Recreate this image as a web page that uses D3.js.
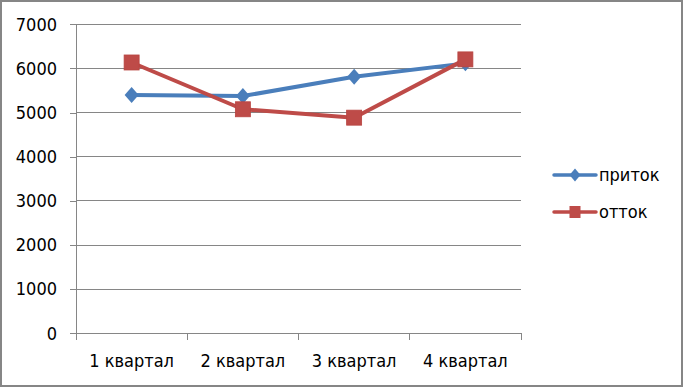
<!DOCTYPE html>
<html><head><meta charset="utf-8">
<script src="https://cdn.jsdelivr.net/npm/d3@7"></script>
<style>
html,body{margin:0;padding:0;background:#fff;}
svg{display:block;}
text{font-family:"DejaVu Sans Condensed","Liberation Sans Narrow",sans-serif;}
</style></head>
<body><svg id="c" width="683" height="387"></svg>
<script>
const categories = ["1 квартал","2 квартал","3 квартал","4 квартал"];
const seriesNames = ["приток","отток"];
const inflow = [5400, 5375, 5810, 6115];
const outflow = [6135, 5075, 4885, 6205];
const yTicks = [0,1000,2000,3000,4000,5000,6000,7000];
const colors = ["#4a7ebb","#be4b48"];

const svg = d3.select("#c");
svg.append("rect").attr("x",1).attr("y",1).attr("width",681).attr("height",385)
  .attr("fill","#fff").attr("stroke","#868686").attr("stroke-width",2);

const L=76, R=521, T=24.3, B=333.3;
const x = d3.scaleBand().domain(categories).range([L,R]);
const y = d3.scaleLinear().domain([0,7000]).range([B,T]);

// gridlines
svg.append("g").selectAll("line").data(yTicks.filter(d=>d>0)).join("line")
  .attr("x1",L).attr("x2",R).attr("y1",d=>y(d)).attr("y2",d=>y(d))
  .attr("stroke","#868686").attr("stroke-width",1).attr("shape-rendering","crispEdges");

// y axis
const ya = svg.append("g").attr("transform",`translate(${L},0)`)
  .call(d3.axisLeft(y).tickValues(yTicks).tickSize(6).tickPadding(13).tickFormat(d3.format("d")));
ya.select(".domain").attr("stroke","#868686").attr("shape-rendering","crispEdges");
ya.selectAll(".tick line").attr("stroke","#868686").attr("shape-rendering","crispEdges");
ya.selectAll("text").attr("font-size",18).attr("fill","#000")
  .style("font-family",'"DejaVu Sans Condensed","Liberation Sans Narrow",sans-serif');

// x axis
const xa = svg.append("g").attr("transform",`translate(0,${B})`);
xa.append("line").attr("x1",L).attr("x2",R).attr("y1",0).attr("y2",0)
  .attr("stroke","#868686").attr("shape-rendering","crispEdges");
const edges = categories.map(c=>x(c)).concat([R]);
xa.selectAll("line.t").data(edges).join("line").attr("class","t")
  .attr("x1",d=>d).attr("x2",d=>d).attr("y1",0).attr("y2",7)
  .attr("stroke","#868686").attr("shape-rendering","crispEdges");
xa.selectAll("text").data(categories).join("text")
  .attr("x",d=>x(d)+x.bandwidth()/2).attr("y",34).attr("text-anchor","middle")
  .attr("font-size",18).attr("fill","#000").text(d=>d);

const cx = d=>x(d)+x.bandwidth()/2;
const line = d3.line().x((d,i)=>cx(categories[i])).y(d=>y(d));
const data = [inflow, outflow];

data.forEach((vals,si)=>{
  svg.append("path").datum(vals).attr("d",line).attr("fill","none")
    .attr("stroke",colors[si]).attr("stroke-width",4).attr("stroke-linejoin","round");
});
const diamondPath = (w,h)=>`M0,${-h/2}L${w/2},0L0,${h/2}L${-w/2},0Z`;
svg.append("g").selectAll("path").data(inflow).join("path")
  .attr("d",diamondPath(14,16))
  .attr("transform",(d,i)=>`translate(${cx(categories[i])},${y(d)})`)
  .attr("fill",colors[0]);
svg.append("g").selectAll("rect").data(outflow).join("rect")
  .attr("x",(d,i)=>cx(categories[i])-7.5).attr("y",d=>y(d)-7.5).attr("width",15).attr("height",15)
  .attr("fill",colors[1]).attr("stroke","#b84440").attr("stroke-width",0.8);

// legend
const lg = svg.append("g");
seriesNames.forEach((n,i)=>{
  const ly = 175 + i*37;
  lg.append("line").attr("x1",554).attr("x2",596).attr("y1",ly).attr("y2",ly)
    .attr("stroke",colors[i]).attr("stroke-width",3.5).attr("stroke-linecap","round");
  if(i===0){
    lg.append("path").attr("d",diamondPath(11,13))
      .attr("transform",`translate(575,${ly})`).attr("fill",colors[0]);
  } else {
    lg.append("rect").attr("x",569.5).attr("y",ly-6).attr("width",11).attr("height",12).attr("fill",colors[1]);
  }
  lg.append("text").attr("x",599).attr("y",ly+6).attr("font-size",18).attr("fill","#000").text(n);
});
</script></body></html>
